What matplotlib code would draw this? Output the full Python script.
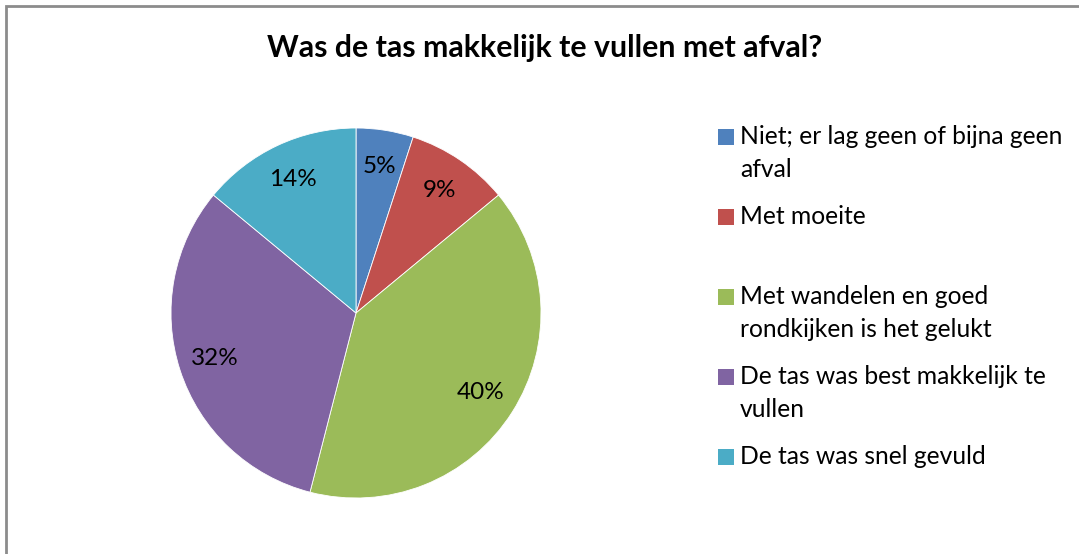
import matplotlib
matplotlib.use("Agg")
import matplotlib.pyplot as plt
from matplotlib.patches import Rectangle

title = "Was de tas makkelijk te vullen met afval?"
categories = [
    "Niet; er lag geen of bijna geen\nafval",
    "Met moeite",
    "Met wandelen en goed\nrondkijken is het gelukt",
    "De tas was best makkelijk te\nvullen",
    "De tas was snel gevuld",
]
values = [5, 9, 40, 32, 14]
colors = ["#4F81BD", "#C0504D", "#9BBB59", "#8064A2", "#4BACC6"]

W, H = 1079, 554
plt.rcParams['font.family'] = ['Lato', 'DejaVu Sans']
fig = plt.figure(figsize=(W / 100, H / 100), dpi=100)

def fx(x):
    return x / W

def fy(y):
    return 1 - y / H

# outer border
fig.patches.append(Rectangle((fx(6), fy(560)), fx(1080), 554 / H, transform=fig.transFigure,
                             fill=False, edgecolor="#8c8c8c", linewidth=2))

cx, cy, R = 356, 313, 185
ax = fig.add_axes([fx(cx - R), fy(cy + R), 2 * R / W, 2 * R / H])
wedges, texts, autotexts = ax.pie(values, colors=colors, startangle=90, counterclock=False,
                                  autopct=lambda p: f"{p:.0f}%", pctdistance=0.8,
                                  wedgeprops=dict(edgecolor="white", linewidth=0.6),
                                  textprops=dict(fontsize=17.5, color="black"))
ax.set_xlim(-1, 1)
ax.set_ylim(-1, 1)
ax.set_aspect("equal")
ax.axis("off")

fig.text(fx(545), fy(48), title, ha="center", va="center", fontsize=21.8, fontweight="bold")

# legend
for i, (lab, col) in enumerate(zip(categories, colors)):
    y = 137 + 80 * i
    fig.patches.append(Rectangle((fx(718), fy(y + 8)), 16 / W, 16 / H, transform=fig.transFigure,
                                 facecolor=col, edgecolor="none"))
    fig.text(fx(740), fy(y - 12), lab, ha="left", va="top", fontsize=17.7, linespacing=1.55)

fig.savefig("out.png", dpi=100)
